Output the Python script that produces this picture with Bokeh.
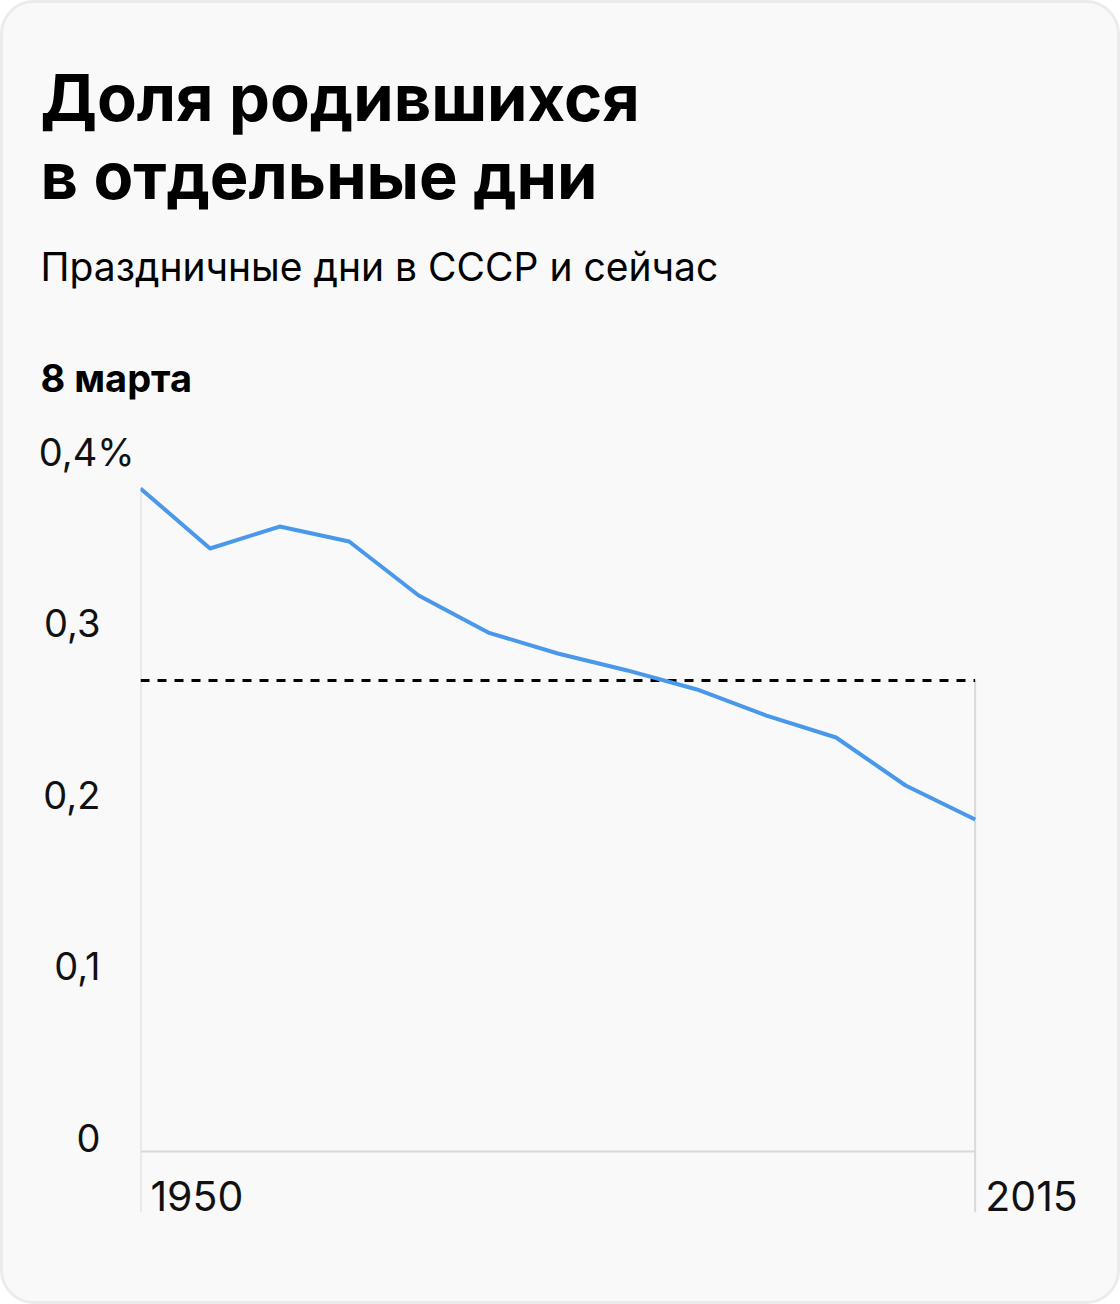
from bokeh.plotting import figure
from bokeh.layouts import column
from bokeh.models import Range1d, FixedTicker, Label
from bokeh.embed import file_html
from bokeh.resources import INLINE

# ---- data ----
period_index = list(range(13))          # 13 equally spaced observations, 1950 ... 2015
share_born = [0.3866, 0.3516, 0.3644, 0.3557, 0.3242, 0.3026, 0.2904,
              0.2805, 0.2694, 0.2542, 0.2414, 0.2134, 0.1936]   # % of births on 8 March
average_day = 0.2746                    # dashed reference line (ordinary day share)
year_labels = ["1950", "2015"]
y_values = [0, 0.1, 0.2, 0.3, 0.4]
y_labels = ["0", "0,1", "0,2", "0,3", "0,4%"]

title_1 = "Доля родившихся"
title_2 = "в отдельные дни"
subtitle = "Праздничные дни в СССР и сейчас"
panel_title = "8 марта"

# ---- styling / layout ----
BG = "#F9F9F9"
GRID = "#D9D9D9"
BLUE = "#4A98E9"
FONT = "Inter"
W = 1114
HEAD_H = 402           # page y 3 .. 405
CHART_H = 896          # page y 405 .. 1301
PX_PER_UNIT = 1715.0
y_start = -61 / PX_PER_UNIT
y_end = y_start + 773 / PX_PER_UNIT

# ---- header (texts) ----
head = figure(width=W, height=HEAD_H, output_backend="svg", toolbar_location=None,
              x_range=Range1d(0, W), y_range=Range1d(0, HEAD_H),
              x_axis_type=None, y_axis_type=None,
              frame_width=W, frame_height=HEAD_H,
              min_border=0, min_border_left=0, min_border_right=0,
              min_border_top=0, min_border_bottom=0,
              background_fill_color=BG, border_fill_color=BG, outline_line_color=None)
head.frame_align = False
head.grid.visible = False

def lab(text, page_x, page_baseline, size, bold):
    # the label box is anchored lower than the glyph baseline: compensate
    y_page = page_baseline - 0.37 * size
    head.add_layout(Label(x=page_x - 3, y=HEAD_H - (y_page - 3),
                          text=text, text_font=FONT, text_font_size=f"{size}px",
                          text_color="#000000",
                          text_font_style="bold" if bold else "normal",
                          text_baseline="alphabetic", text_align="left"))

lab(title_1, 40, 121, 65, True)
lab(title_2, 40, 199, 65, True)
lab(subtitle, 40, 280, 39, False)
lab(panel_title, 40, 392, 38, True)

# ---- chart ----
p = figure(width=W, height=CHART_H, output_backend="svg", toolbar_location=None,
           x_range=Range1d(0, 13.5), y_range=Range1d(y_start, y_end),
           frame_width=939, frame_height=773,
           min_border_left=137, min_border_right=38, min_border_top=34, min_border_bottom=89,
           background_fill_color=BG, border_fill_color=BG, outline_line_color=None)
p.frame_align = False
p.grid.visible = False

# gray frame lines
p.segment(x0=[period_index[0], period_index[-1], period_index[0]],
          y0=[y_start, y_start, 0],
          x1=[period_index[0], period_index[-1], period_index[-1]],
          y1=[share_born[0], average_day, 0],
          line_color=GRID, line_width=2)
# dashed reference
p.line([period_index[0], period_index[-1]], [average_day, average_day],
       line_color="black", line_width=3, line_dash="9 8")
# main series
p.line(period_index, share_born, line_color=BLUE, line_width=4, line_join="round")

# y axis
y_off = 0.008
y_tick_pos = [round(v + y_off, 6) for v in y_values]
pad = "\u2007\u2005"
ax = p.yaxis[0]
ax.ticker = FixedTicker(ticks=y_tick_pos)
ax.major_label_overrides = {t: (lab_ if lab_.endswith("%") else lab_ + pad)
                            for t, lab_ in zip(y_tick_pos, y_labels)}
ax.axis_line_color = None
ax.major_tick_line_color = None
ax.minor_tick_line_color = None
ax.major_label_standoff = 0
ax.major_label_text_font = FONT
ax.major_label_text_font_size = "38px"
ax.major_label_text_color = "#111111"

# x axis
x_off = 0.81
x_tick_pos = [round(period_index[0] + x_off, 4), round(period_index[-1] + x_off, 4)]
xa = p.xaxis[0]
xa.ticker = FixedTicker(ticks=x_tick_pos)
xa.major_label_overrides = {t: lab_ for t, lab_ in zip(x_tick_pos, year_labels)}
xa.axis_line_color = None
xa.major_tick_line_color = None
xa.minor_tick_line_color = None
xa.major_label_standoff = -38
xa.major_label_text_font = FONT
xa.major_label_text_font_size = "41px"
xa.major_label_text_color = "#111111"

layout = column(head, p, spacing=0,
                styles={"border": "3px solid #EBEBEB", "border-radius": "34px",
                        "overflow": "hidden", "background-color": BG})

open("out.html", "w").write(file_html(layout, INLINE))
